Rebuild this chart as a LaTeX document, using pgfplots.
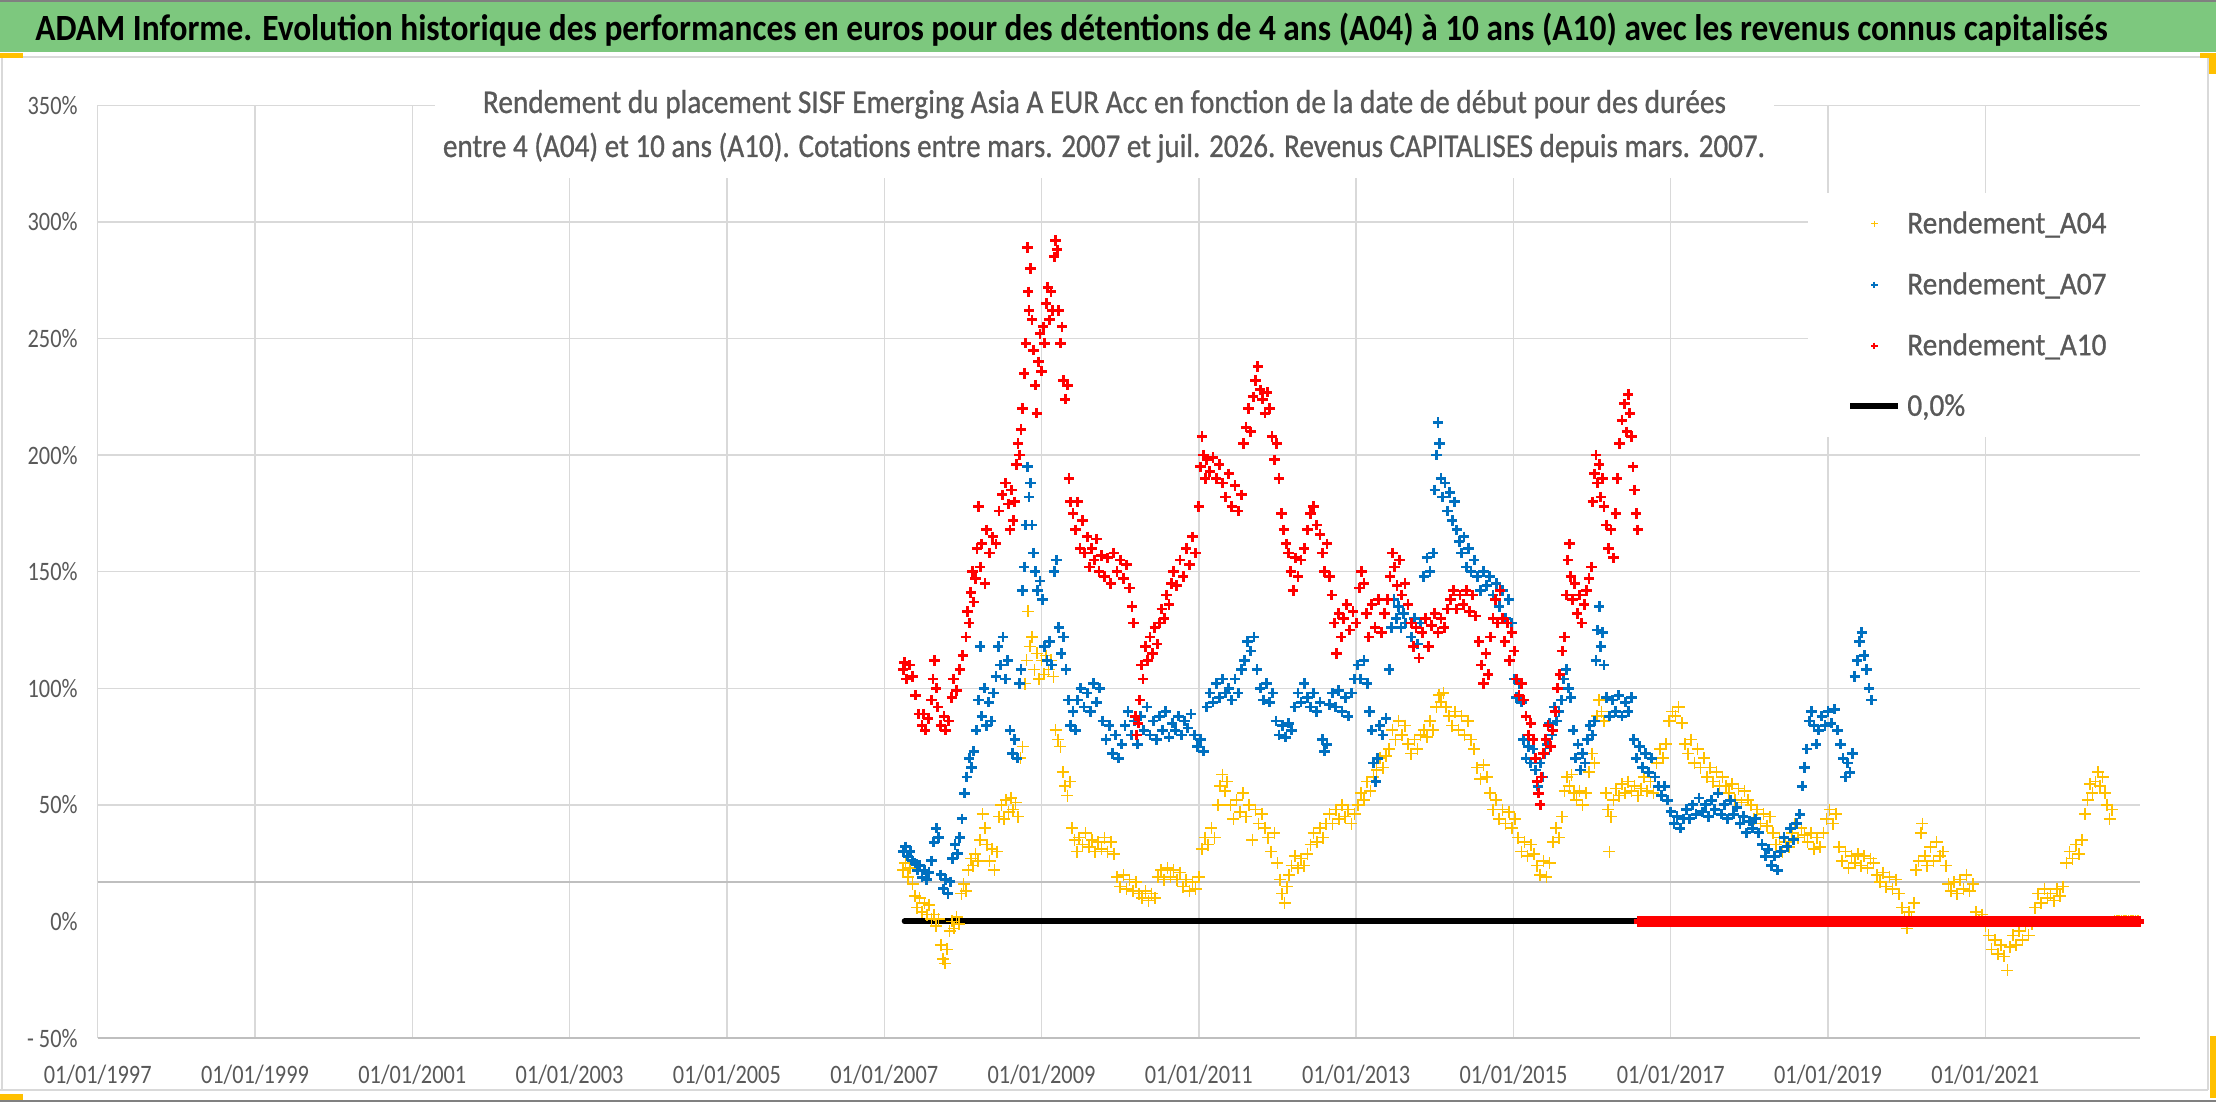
\documentclass[border=0pt]{standalone}
\usepackage{fontspec}
\setmainfont{Carlito}[FakeStretch=0.84]
\newfontfamily\legfont{Carlito}[FakeStretch=0.925,FakeBold=0.8]
\newfontfamily\titfont{Carlito}
\newfontfamily\chtfont{Carlito}[FakeBold=0.8]
\usepackage{graphicx}
\usepackage{pgfplots}
\usepackage{pgfplotstable}
\pgfplotsset{compat=1.18}
\definecolor{tgray}{HTML}{595959}
\definecolor{ggrid}{HTML}{D9D9D9}
\definecolor{axgray}{HTML}{BFBFBF}
\definecolor{barg}{RGB}{125,200,126}
\definecolor{cA04}{HTML}{FFC000}
\definecolor{cA07}{HTML}{0070C0}
\definecolor{cA10}{HTML}{FF0000}

\pgfplotstableread[row sep=\\]{x y\\
2007.24 22\\ 2007.27 25\\ 2007.30 19\\ 2007.33 23\\ 2007.36 16\\ 2007.39 11\\ 2007.42 6\\ 2007.45 10\\ 2007.48 4\\ 2007.51 8\\
2007.54 3\\ 2007.57 7\\ 2007.60 1\\ 2007.63 3\\ 2007.66 -2\\ 2007.69 1\\ 2007.72 -10\\ 2007.75 -16\\ 2007.77 -18\\ 2007.80 -12\\
2007.83 -4\\ 2007.86 0\\ 2007.89 -3\\ 2007.92 2\\ 2007.95 -1\\ 2007.98 12\\ 2008.01 16\\ 2008.04 13\\ 2008.07 22\\ 2008.10 27\\
2008.13 24\\ 2008.16 29\\ 2008.19 26\\ 2008.22 35\\ 2008.25 46\\ 2008.28 40\\ 2008.31 33\\ 2008.34 26\\ 2008.37 31\\ 2008.40 22\\
2008.43 30\\ 2008.46 45\\ 2008.49 50\\ 2008.52 44\\ 2008.55 52\\ 2008.58 47\\ 2008.61 53\\ 2008.64 48\\ 2008.67 51\\ 2008.70 45\\
2008.73 70\\ 2008.76 75\\ 2008.79 102\\ 2008.81 112\\ 2008.83 133\\ 2008.85 118\\ 2008.88 122\\ 2008.91 108\\ 2008.94 115\\ 2008.97 104\\
2009.00 112\\ 2009.03 106\\ 2009.06 114\\ 2009.09 108\\ 2009.12 112\\ 2009.15 105\\ 2009.18 82\\ 2009.21 78\\ 2009.24 75\\ 2009.27 64\\
2009.30 58\\ 2009.33 54\\ 2009.36 60\\ 2009.39 40\\ 2009.42 35\\ 2009.45 30\\ 2009.48 36\\ 2009.52 33\\ 2009.56 38\\ 2009.60 32\\
2009.64 35\\ 2009.68 30\\ 2009.72 34\\ 2009.76 31\\ 2009.80 36\\ 2009.84 30\\ 2009.88 34\\ 2009.92 29\\ 2009.96 19\\ 2010.00 15\\
2010.04 20\\ 2010.08 14\\ 2010.12 18\\ 2010.16 13\\ 2010.20 17\\ 2010.24 12\\ 2010.28 10\\ 2010.32 13\\ 2010.36 9\\ 2010.40 12\\
2010.44 10\\ 2010.48 19\\ 2010.52 22\\ 2010.56 18\\ 2010.60 23\\ 2010.64 19\\ 2010.68 22\\ 2010.72 18\\ 2010.76 21\\ 2010.80 15\\
2010.84 18\\ 2010.88 13\\ 2010.92 17\\ 2010.96 14\\ 2011.00 19\\ 2011.04 31\\ 2011.08 36\\ 2011.12 33\\ 2011.16 40\\ 2011.20 36\\
2011.24 50\\ 2011.27 58\\ 2011.30 63\\ 2011.33 56\\ 2011.36 60\\ 2011.40 50\\ 2011.44 44\\ 2011.48 52\\ 2011.52 47\\ 2011.56 55\\
2011.60 45\\ 2011.64 50\\ 2011.68 35\\ 2011.72 48\\ 2011.76 42\\ 2011.80 46\\ 2011.84 40\\ 2011.88 36\\ 2011.92 30\\ 2011.96 38\\
2012.00 25\\ 2012.03 18\\ 2012.06 12\\ 2012.09 8\\ 2012.12 15\\ 2012.15 20\\ 2012.18 24\\ 2012.22 28\\ 2012.26 23\\ 2012.30 27\\
2012.34 24\\ 2012.38 29\\ 2012.42 33\\ 2012.46 38\\ 2012.50 34\\ 2012.54 40\\ 2012.58 36\\ 2012.62 42\\ 2012.66 46\\ 2012.70 42\\
2012.74 48\\ 2012.78 44\\ 2012.82 50\\ 2012.86 45\\ 2012.90 48\\ 2012.94 42\\ 2012.98 46\\ 2013.02 50\\ 2013.06 55\\ 2013.10 52\\
2013.14 60\\ 2013.18 56\\ 2013.22 62\\ 2013.26 65\\ 2013.30 70\\ 2013.34 66\\ 2013.38 71\\ 2013.42 74\\ 2013.46 82\\ 2013.50 78\\
2013.54 86\\ 2013.58 80\\ 2013.62 84\\ 2013.66 76\\ 2013.70 72\\ 2013.74 78\\ 2013.78 74\\ 2013.82 80\\ 2013.86 82\\ 2013.90 79\\
2013.94 86\\ 2013.98 82\\ 2014.02 92\\ 2014.05 97\\ 2014.08 94\\ 2014.11 98\\ 2014.14 92\\ 2014.18 88\\ 2014.22 84\\ 2014.26 90\\
2014.30 82\\ 2014.34 88\\ 2014.38 80\\ 2014.42 86\\ 2014.46 78\\ 2014.50 74\\ 2014.54 66\\ 2014.58 61\\ 2014.62 67\\ 2014.66 62\\
2014.70 55\\ 2014.74 48\\ 2014.78 52\\ 2014.82 44\\ 2014.86 48\\ 2014.90 42\\ 2014.94 47\\ 2014.98 40\\ 2015.02 44\\ 2015.06 36\\
2015.10 30\\ 2015.14 34\\ 2015.18 28\\ 2015.22 33\\ 2015.26 29\\ 2015.30 24\\ 2015.34 20\\ 2015.38 26\\ 2015.42 19\\ 2015.46 25\\
2015.50 34\\ 2015.54 40\\ 2015.58 36\\ 2015.62 45\\ 2015.65 56\\ 2015.68 62\\ 2015.71 58\\ 2015.74 63\\ 2015.77 55\\ 2015.80 52\\
2015.84 56\\ 2015.88 50\\ 2015.92 55\\ 2015.96 64\\ 2016.00 72\\ 2016.03 68\\ 2016.06 88\\ 2016.09 95\\ 2016.12 90\\ 2016.15 86\\
2016.18 55\\ 2016.20 48\\ 2016.22 30\\ 2016.24 45\\ 2016.27 52\\ 2016.30 57\\ 2016.34 54\\ 2016.38 59\\ 2016.42 55\\ 2016.46 60\\
2016.50 56\\ 2016.54 58\\ 2016.58 54\\ 2016.62 57\\ 2016.66 62\\ 2016.70 56\\ 2016.74 60\\ 2016.78 55\\ 2016.82 68\\ 2016.86 74\\
2016.90 70\\ 2016.94 76\\ 2016.98 86\\ 2017.02 90\\ 2017.06 88\\ 2017.10 92\\ 2017.14 85\\ 2017.18 76\\ 2017.22 72\\ 2017.26 78\\
2017.30 68\\ 2017.34 74\\ 2017.38 66\\ 2017.42 70\\ 2017.46 62\\ 2017.50 66\\ 2017.54 60\\ 2017.58 64\\ 2017.62 58\\ 2017.66 62\\
2017.70 58\\ 2017.74 55\\ 2017.78 59\\ 2017.82 52\\ 2017.86 57\\ 2017.90 51\\ 2017.94 56\\ 2017.98 52\\ 2018.02 50\\ 2018.06 44\\
2018.10 48\\ 2018.14 42\\ 2018.18 46\\ 2018.22 41\\ 2018.26 45\\ 2018.30 38\\ 2018.34 33\\ 2018.38 36\\ 2018.42 30\\ 2018.46 34\\
2018.50 32\\ 2018.54 38\\ 2018.58 42\\ 2018.62 36\\ 2018.66 40\\ 2018.70 37\\ 2018.74 34\\ 2018.78 38\\ 2018.82 31\\ 2018.86 36\\
2018.90 32\\ 2018.94 38\\ 2018.98 44\\ 2019.02 48\\ 2019.06 42\\ 2019.10 46\\ 2019.14 32\\ 2019.18 26\\ 2019.22 30\\ 2019.26 23\\
2019.30 28\\ 2019.34 25\\ 2019.38 29\\ 2019.42 24\\ 2019.46 28\\ 2019.50 23\\ 2019.54 27\\ 2019.58 25\\ 2019.62 20\\ 2019.66 17\\
2019.70 21\\ 2019.74 15\\ 2019.78 19\\ 2019.82 14\\ 2019.86 18\\ 2019.90 12\\ 2019.94 6\\ 2019.97 2\\ 2020.00 -3\\ 2020.03 4\\
2020.06 1\\ 2020.09 8\\ 2020.12 22\\ 2020.15 26\\ 2020.18 38\\ 2020.20 42\\ 2020.23 28\\ 2020.26 24\\ 2020.30 32\\ 2020.34 26\\
2020.38 34\\ 2020.42 28\\ 2020.46 30\\ 2020.50 24\\ 2020.53 16\\ 2020.56 13\\ 2020.60 17\\ 2020.64 12\\ 2020.68 18\\ 2020.72 14\\
2020.76 20\\ 2020.80 13\\ 2020.84 16\\ 2020.88 4\\ 2020.92 0\\ 2020.96 3\\ 2021.00 -2\\ 2021.04 -6\\ 2021.08 -12\\ 2021.12 -8\\
2021.16 -14\\ 2021.20 -10\\ 2021.24 -15\\ 2021.28 -21\\ 2021.31 -11\\ 2021.35 -6\\ 2021.39 -10\\ 2021.43 -4\\ 2021.47 -8\\ 2021.51 -2\\
2021.55 -6\\ 2021.59 -1\\ 2021.63 6\\ 2021.67 12\\ 2021.71 8\\ 2021.75 14\\ 2021.79 10\\ 2021.83 12\\ 2021.87 9\\ 2021.91 14\\
2021.95 11\\ 2021.99 15\\ 2022.03 25\\ 2022.07 30\\ 2022.11 27\\ 2022.15 33\\ 2022.19 29\\ 2022.23 35\\ 2022.27 46\\ 2022.30 52\\
2022.33 59\\ 2022.36 55\\ 2022.40 60\\ 2022.43 64\\ 2022.46 58\\ 2022.49 62\\ 2022.52 55\\ 2022.55 50\\ 2022.58 44\\ 2022.61 48\\
2022.64 0\\ 2022.67 0\\ 2022.70 0\\ 2022.73 0\\ 2022.76 0\\ 2022.79 0\\ 2022.82 0\\ 2022.85 0\\ 2022.88 0\\ 2022.91 0\\ 2022.94 0\\
}\tAfour

\pgfplotstableread[row sep=\\]{x y\\
2007.24 30\\ 2007.27 32\\ 2007.30 28\\ 2007.33 30\\ 2007.36 26\\ 2007.39 25\\ 2007.42 22\\ 2007.45 24\\ 2007.48 19\\ 2007.51 22\\
2007.54 18\\ 2007.57 21\\ 2007.60 26\\ 2007.63 34\\ 2007.66 40\\ 2007.69 36\\ 2007.72 20\\ 2007.75 14\\ 2007.78 18\\ 2007.81 12\\
2007.84 17\\ 2007.87 27\\ 2007.90 33\\ 2007.93 29\\ 2007.96 36\\ 2007.99 44\\ 2008.02 55\\ 2008.05 62\\ 2008.08 70\\ 2008.11 66\\
2008.14 73\\ 2008.17 82\\ 2008.20 95\\ 2008.22 118\\ 2008.24 88\\ 2008.27 100\\ 2008.30 84\\ 2008.33 94\\ 2008.36 86\\ 2008.39 98\\
2008.42 105\\ 2008.45 118\\ 2008.48 110\\ 2008.51 122\\ 2008.54 104\\ 2008.57 112\\ 2008.60 82\\ 2008.63 72\\ 2008.66 78\\ 2008.69 70\\
2008.72 102\\ 2008.74 108\\ 2008.76 142\\ 2008.78 152\\ 2008.80 170\\ 2008.82 195\\ 2008.84 182\\ 2008.86 188\\ 2008.88 170\\ 2008.90 158\\
2008.92 150\\ 2008.95 142\\ 2008.98 146\\ 2009.01 138\\ 2009.04 118\\ 2009.07 112\\ 2009.10 120\\ 2009.13 110\\ 2009.16 150\\ 2009.19 155\\
2009.22 126\\ 2009.25 115\\ 2009.28 122\\ 2009.31 108\\ 2009.34 95\\ 2009.37 84\\ 2009.40 90\\ 2009.43 82\\ 2009.46 95\\ 2009.50 100\\
2009.54 92\\ 2009.58 98\\ 2009.62 90\\ 2009.66 102\\ 2009.70 94\\ 2009.74 100\\ 2009.78 86\\ 2009.82 78\\ 2009.86 84\\ 2009.90 72\\
2009.94 80\\ 2009.98 70\\ 2010.02 76\\ 2010.06 84\\ 2010.10 90\\ 2010.14 80\\ 2010.18 86\\ 2010.22 76\\ 2010.26 88\\ 2010.30 82\\
2010.34 92\\ 2010.38 80\\ 2010.42 86\\ 2010.46 78\\ 2010.50 88\\ 2010.54 82\\ 2010.58 90\\ 2010.62 79\\ 2010.66 85\\ 2010.70 82\\
2010.74 88\\ 2010.78 80\\ 2010.82 86\\ 2010.86 83\\ 2010.90 89\\ 2010.94 80\\ 2010.98 75\\ 2011.02 78\\ 2011.06 73\\ 2011.10 92\\
2011.14 98\\ 2011.18 94\\ 2011.22 102\\ 2011.26 96\\ 2011.30 104\\ 2011.34 98\\ 2011.38 100\\ 2011.42 95\\ 2011.46 104\\ 2011.50 98\\
2011.54 108\\ 2011.58 112\\ 2011.62 120\\ 2011.66 116\\ 2011.70 122\\ 2011.74 108\\ 2011.78 100\\ 2011.82 95\\ 2011.86 102\\ 2011.90 94\\
2011.94 98\\ 2011.98 86\\ 2012.02 80\\ 2012.06 84\\ 2012.10 79\\ 2012.14 85\\ 2012.18 82\\ 2012.22 92\\ 2012.26 98\\ 2012.30 94\\
2012.34 102\\ 2012.38 96\\ 2012.42 92\\ 2012.46 98\\ 2012.50 90\\ 2012.54 94\\ 2012.57 78\\ 2012.60 73\\ 2012.63 76\\ 2012.66 93\\
2012.70 98\\ 2012.74 92\\ 2012.78 99\\ 2012.82 90\\ 2012.86 96\\ 2012.90 88\\ 2012.94 98\\ 2012.98 104\\ 2013.02 110\\ 2013.06 104\\
2013.10 112\\ 2013.14 102\\ 2013.17 90\\ 2013.20 82\\ 2013.22 68\\ 2013.25 60\\ 2013.27 70\\ 2013.30 84\\ 2013.34 80\\ 2013.38 87\\
2013.42 108\\ 2013.45 126\\ 2013.48 138\\ 2013.51 130\\ 2013.54 135\\ 2013.57 126\\ 2013.60 132\\ 2013.63 128\\ 2013.66 136\\ 2013.70 122\\
2013.74 130\\ 2013.78 119\\ 2013.82 128\\ 2013.86 148\\ 2013.90 156\\ 2013.94 150\\ 2013.98 158\\ 2014.00 185\\ 2014.02 200\\ 2014.04 214\\
2014.06 205\\ 2014.08 190\\ 2014.10 182\\ 2014.13 188\\ 2014.16 176\\ 2014.19 184\\ 2014.22 172\\ 2014.25 180\\ 2014.28 168\\ 2014.31 163\\
2014.34 158\\ 2014.37 165\\ 2014.40 152\\ 2014.43 160\\ 2014.46 150\\ 2014.50 155\\ 2014.54 148\\ 2014.58 142\\ 2014.62 150\\ 2014.66 144\\
2014.70 148\\ 2014.74 140\\ 2014.78 145\\ 2014.82 135\\ 2014.86 142\\ 2014.90 130\\ 2014.94 138\\ 2014.98 128\\ 2015.01 104\\ 2015.04 96\\
2015.07 102\\ 2015.10 94\\ 2015.13 78\\ 2015.16 70\\ 2015.19 75\\ 2015.22 68\\ 2015.25 74\\ 2015.28 65\\ 2015.31 58\\ 2015.34 68\\
2015.37 62\\ 2015.40 72\\ 2015.43 76\\ 2015.46 85\\ 2015.49 80\\ 2015.52 92\\ 2015.55 86\\ 2015.58 90\\ 2015.61 95\\ 2015.64 104\\
2015.67 108\\ 2015.70 100\\ 2015.73 96\\ 2015.76 82\\ 2015.79 70\\ 2015.82 76\\ 2015.85 65\\ 2015.88 72\\ 2015.91 68\\ 2015.94 78\\
2015.97 84\\ 2016.00 80\\ 2016.03 86\\ 2016.05 112\\ 2016.07 125\\ 2016.09 135\\ 2016.11 118\\ 2016.13 124\\ 2016.15 110\\ 2016.18 96\\
2016.22 88\\ 2016.26 95\\ 2016.30 90\\ 2016.34 97\\ 2016.38 88\\ 2016.42 94\\ 2016.46 90\\ 2016.50 96\\ 2016.53 78\\ 2016.56 70\\
2016.60 75\\ 2016.64 66\\ 2016.68 72\\ 2016.72 64\\ 2016.76 70\\ 2016.80 62\\ 2016.84 58\\ 2016.88 54\\ 2016.92 58\\ 2016.96 52\\
2017.00 47\\ 2017.04 42\\ 2017.08 45\\ 2017.12 40\\ 2017.16 44\\ 2017.20 48\\ 2017.24 44\\ 2017.28 50\\ 2017.32 46\\ 2017.36 53\\
2017.40 47\\ 2017.44 50\\ 2017.48 45\\ 2017.52 52\\ 2017.56 48\\ 2017.60 55\\ 2017.64 46\\ 2017.68 50\\ 2017.72 44\\ 2017.76 52\\
2017.80 46\\ 2017.84 49\\ 2017.88 42\\ 2017.92 45\\ 2017.96 38\\ 2018.00 43\\ 2018.04 40\\ 2018.08 44\\ 2018.12 38\\ 2018.16 33\\
2018.20 28\\ 2018.24 31\\ 2018.28 24\\ 2018.32 28\\ 2018.36 22\\ 2018.40 30\\ 2018.44 36\\ 2018.48 32\\ 2018.52 40\\ 2018.56 35\\
2018.60 42\\ 2018.64 46\\ 2018.67 58\\ 2018.70 66\\ 2018.73 74\\ 2018.76 86\\ 2018.79 90\\ 2018.82 84\\ 2018.85 76\\ 2018.88 82\\
2018.92 88\\ 2018.96 84\\ 2019.00 90\\ 2019.04 85\\ 2019.08 91\\ 2019.12 82\\ 2019.16 76\\ 2019.19 70\\ 2019.22 62\\ 2019.25 68\\
2019.28 64\\ 2019.31 72\\ 2019.34 105\\ 2019.37 112\\ 2019.40 120\\ 2019.43 124\\ 2019.46 114\\ 2019.49 108\\ 2019.52 100\\ 2019.55 95\\
2019.60 0\\ 2019.70 0\\ 2019.80 0\\ 2019.90 0\\ 2020.00 0\\ 2020.10 0\\ 2020.20 0\\ 2020.30 0\\ 2020.40 0\\ 2020.50 0\\
2020.60 0\\ 2020.70 0\\ 2020.80 0\\ 2020.90 0\\ 2021.00 0\\ 2021.10 0\\ 2021.20 0\\ 2021.30 0\\ 2021.40 0\\ 2021.50 0\\
2021.60 0\\ 2021.70 0\\ 2021.80 0\\ 2021.90 0\\ 2022.00 0\\ 2022.10 0\\ 2022.20 0\\ 2022.30 0\\ 2022.40 0\\ 2022.50 0\\
2022.60 0\\ 2022.70 0\\ 2022.80 0\\ 2022.90 0\\
}\tAseven

\pgfplotstableread[row sep=\\]{x y\\
2007.24 108\\ 2007.26 111\\ 2007.28 104\\ 2007.32 110\\ 2007.36 105\\ 2007.40 97\\ 2007.44 89\\ 2007.48 84\\ 2007.50 89\\ 2007.52 82\\
2007.56 87\\ 2007.60 95\\ 2007.62 104\\ 2007.64 112\\ 2007.66 100\\ 2007.68 92\\ 2007.72 84\\ 2007.76 88\\ 2007.78 82\\ 2007.82 86\\
2007.86 96\\ 2007.88 104\\ 2007.92 99\\ 2007.96 108\\ 2008.00 114\\ 2008.04 122\\ 2008.06 133\\ 2008.08 128\\ 2008.10 141\\ 2008.12 150\\
2008.14 137\\ 2008.16 147\\ 2008.18 160\\ 2008.20 178\\ 2008.22 152\\ 2008.24 162\\ 2008.28 145\\ 2008.30 168\\ 2008.34 158\\ 2008.38 165\\
2008.42 162\\ 2008.46 176\\ 2008.50 183\\ 2008.54 188\\ 2008.58 179\\ 2008.60 168\\ 2008.62 185\\ 2008.64 172\\ 2008.66 180\\ 2008.68 196\\
2008.70 205\\ 2008.72 200\\ 2008.74 211\\ 2008.76 220\\ 2008.78 235\\ 2008.80 248\\ 2008.82 289\\ 2008.83 270\\ 2008.84 262\\ 2008.86 280\\
2008.88 258\\ 2008.90 245\\ 2008.92 230\\ 2008.94 218\\ 2008.96 240\\ 2008.98 252\\ 2009.00 236\\ 2009.02 255\\ 2009.04 248\\ 2009.06 265\\
2009.08 272\\ 2009.10 258\\ 2009.12 270\\ 2009.14 262\\ 2009.16 285\\ 2009.18 292\\ 2009.20 288\\ 2009.22 262\\ 2009.24 248\\ 2009.26 255\\
2009.28 232\\ 2009.30 224\\ 2009.33 230\\ 2009.35 190\\ 2009.37 180\\ 2009.40 175\\ 2009.43 168\\ 2009.46 180\\ 2009.49 160\\ 2009.52 172\\
2009.55 158\\ 2009.58 165\\ 2009.61 152\\ 2009.64 160\\ 2009.67 155\\ 2009.70 164\\ 2009.73 150\\ 2009.76 157\\ 2009.80 148\\ 2009.84 156\\
2009.88 145\\ 2009.92 158\\ 2009.96 150\\ 2010.00 155\\ 2010.04 147\\ 2010.08 153\\ 2010.12 143\\ 2010.15 135\\ 2010.17 128\\ 2010.19 88\\
2010.21 80\\ 2010.23 85\\ 2010.25 95\\ 2010.27 110\\ 2010.29 104\\ 2010.32 118\\ 2010.35 112\\ 2010.38 122\\ 2010.41 115\\ 2010.44 126\\
2010.47 119\\ 2010.50 128\\ 2010.53 134\\ 2010.56 130\\ 2010.59 140\\ 2010.62 136\\ 2010.65 145\\ 2010.68 150\\ 2010.72 144\\ 2010.76 155\\
2010.80 148\\ 2010.84 160\\ 2010.88 153\\ 2010.92 165\\ 2010.96 158\\ 2011.00 178\\ 2011.02 195\\ 2011.04 208\\ 2011.06 200\\ 2011.08 190\\
2011.10 198\\ 2011.14 193\\ 2011.18 199\\ 2011.22 190\\ 2011.26 196\\ 2011.30 188\\ 2011.34 182\\ 2011.38 192\\ 2011.42 178\\ 2011.46 187\\
2011.50 176\\ 2011.54 183\\ 2011.57 205\\ 2011.60 212\\ 2011.63 220\\ 2011.66 210\\ 2011.69 225\\ 2011.72 232\\ 2011.75 238\\ 2011.78 228\\
2011.81 224\\ 2011.84 218\\ 2011.87 227\\ 2011.90 220\\ 2011.93 208\\ 2011.96 198\\ 2011.99 205\\ 2012.02 190\\ 2012.05 175\\ 2012.08 168\\
2012.11 162\\ 2012.14 158\\ 2012.17 150\\ 2012.20 142\\ 2012.23 156\\ 2012.26 148\\ 2012.30 155\\ 2012.34 160\\ 2012.38 168\\ 2012.42 175\\
2012.46 178\\ 2012.50 170\\ 2012.54 166\\ 2012.57 158\\ 2012.60 150\\ 2012.63 162\\ 2012.66 148\\ 2012.69 140\\ 2012.72 128\\ 2012.75 115\\
2012.78 132\\ 2012.81 122\\ 2012.84 130\\ 2012.88 136\\ 2012.92 125\\ 2012.96 133\\ 2013.00 128\\ 2013.04 143\\ 2013.07 150\\ 2013.10 145\\
2013.13 132\\ 2013.16 122\\ 2013.20 136\\ 2013.24 126\\ 2013.28 138\\ 2013.32 124\\ 2013.36 132\\ 2013.40 138\\ 2013.43 148\\ 2013.46 158\\
2013.49 152\\ 2013.52 144\\ 2013.55 155\\ 2013.58 140\\ 2013.62 145\\ 2013.66 136\\ 2013.70 128\\ 2013.73 118\\ 2013.76 126\\ 2013.80 113\\
2013.84 124\\ 2013.88 130\\ 2013.92 118\\ 2013.96 127\\ 2014.00 132\\ 2014.04 124\\ 2014.08 130\\ 2014.12 126\\ 2014.16 134\\ 2014.20 138\\
2014.24 142\\ 2014.28 134\\ 2014.32 140\\ 2014.36 136\\ 2014.40 142\\ 2014.44 133\\ 2014.48 140\\ 2014.52 131\\ 2014.56 120\\ 2014.59 110\\
2014.62 102\\ 2014.65 115\\ 2014.68 106\\ 2014.71 122\\ 2014.74 130\\ 2014.77 138\\ 2014.80 128\\ 2014.83 142\\ 2014.86 130\\ 2014.89 120\\
2014.92 128\\ 2014.95 112\\ 2014.98 124\\ 2015.01 116\\ 2015.04 104\\ 2015.07 97\\ 2015.10 102\\ 2015.13 95\\ 2015.16 88\\ 2015.19 80\\
2015.22 85\\ 2015.25 78\\ 2015.28 70\\ 2015.30 60\\ 2015.32 55\\ 2015.34 50\\ 2015.36 62\\ 2015.38 72\\ 2015.41 78\\ 2015.44 84\\
2015.47 75\\ 2015.50 82\\ 2015.53 90\\ 2015.56 100\\ 2015.59 106\\ 2015.62 116\\ 2015.65 122\\ 2015.67 140\\ 2015.69 155\\ 2015.71 162\\
2015.73 148\\ 2015.75 138\\ 2015.78 145\\ 2015.81 132\\ 2015.84 140\\ 2015.87 128\\ 2015.90 136\\ 2015.93 142\\ 2015.96 147\\ 2015.99 152\\
2016.01 180\\ 2016.03 192\\ 2016.05 200\\ 2016.07 188\\ 2016.09 196\\ 2016.11 182\\ 2016.13 190\\ 2016.15 178\\ 2016.18 170\\ 2016.21 160\\
2016.24 168\\ 2016.27 156\\ 2016.30 175\\ 2016.32 190\\ 2016.35 205\\ 2016.38 215\\ 2016.41 222\\ 2016.44 210\\ 2016.46 226\\ 2016.48 218\\
2016.50 208\\ 2016.52 195\\ 2016.54 185\\ 2016.56 175\\ 2016.58 168\\
}\tAten

\pgfplotstableread[row sep=\\]{x y\\
2016.60 0\\ 2016.65 0\\ 2016.70 0\\ 2016.75 0\\ 2016.80 0\\ 2016.85 0\\ 2016.90 0\\ 2016.95 0\\ 2017.00 0\\ 2017.05 0\\
2017.10 0\\ 2017.15 0\\ 2017.20 0\\ 2017.25 0\\ 2017.30 0\\ 2017.35 0\\ 2017.40 0\\ 2017.45 0\\ 2017.50 0\\ 2017.55 0\\
2017.60 0\\ 2017.65 0\\ 2017.70 0\\ 2017.75 0\\ 2017.80 0\\ 2017.85 0\\ 2017.90 0\\ 2017.95 0\\ 2018.00 0\\ 2018.05 0\\
2018.10 0\\ 2018.15 0\\ 2018.20 0\\ 2018.25 0\\ 2018.30 0\\ 2018.35 0\\ 2018.40 0\\ 2018.45 0\\ 2018.50 0\\ 2018.55 0\\
2018.60 0\\ 2018.65 0\\ 2018.70 0\\ 2018.75 0\\ 2018.80 0\\ 2018.85 0\\ 2018.90 0\\ 2018.95 0\\ 2019.00 0\\ 2019.05 0\\
2019.10 0\\ 2019.15 0\\ 2019.20 0\\ 2019.25 0\\ 2019.30 0\\ 2019.35 0\\ 2019.40 0\\ 2019.45 0\\ 2019.50 0\\ 2019.55 0\\
2019.60 0\\ 2019.65 0\\ 2019.70 0\\ 2019.75 0\\ 2019.80 0\\ 2019.85 0\\ 2019.90 0\\ 2019.95 0\\ 2020.00 0\\ 2020.05 0\\
2020.10 0\\ 2020.15 0\\ 2020.20 0\\ 2020.25 0\\ 2020.30 0\\ 2020.35 0\\ 2020.40 0\\ 2020.45 0\\ 2020.50 0\\ 2020.55 0\\
2020.60 0\\ 2020.65 0\\ 2020.70 0\\ 2020.75 0\\ 2020.80 0\\ 2020.85 0\\ 2020.90 0\\ 2020.95 0\\ 2021.00 0\\ 2021.05 0\\
2021.10 0\\ 2021.15 0\\ 2021.20 0\\ 2021.25 0\\ 2021.30 0\\ 2021.35 0\\ 2021.40 0\\ 2021.45 0\\ 2021.50 0\\ 2021.55 0\\
2021.60 0\\ 2021.65 0\\ 2021.70 0\\ 2021.75 0\\ 2021.80 0\\ 2021.85 0\\ 2021.90 0\\ 2021.95 0\\ 2022.00 0\\ 2022.05 0\\
2022.10 0\\ 2022.15 0\\ 2022.20 0\\ 2022.25 0\\ 2022.30 0\\ 2022.35 0\\ 2022.40 0\\ 2022.45 0\\ 2022.50 0\\ 2022.55 0\\
2022.60 0\\ 2022.65 0\\ 2022.70 0\\ 2022.75 0\\ 2022.80 0\\ 2022.85 0\\ 2022.90 0\\ 2022.95 0\\
}\tAtenzero

\begin{document}
\begin{tikzpicture}[x=1pt,y=1pt]
\useasboundingbox (0,0) rectangle (1108,551);
\fill[white] (0,0) rectangle (1108,551);
% title bar
\fill[barg] (0,525) rectangle (1108,550.5);
\draw[line width=1.2pt, color=gray] (0,550.4) -- (1108,550.4);
\draw[line width=1pt, color=ggrid] (0,522.6) -- (1104,522.6);
\draw[line width=0.8pt, color=ggrid] (1,6) -- (1,522);
\draw[line width=0.8pt, color=ggrid] (1104,6) -- (1104,522);
\draw[line width=0.8pt, color=ggrid] (0,6) -- (1104,6);
\draw[line width=1pt, color=gray] (0,0.5) -- (1108,0.5);
\fill[cA04] (0,522) rectangle (11.5,524.6);
\fill[cA04] (1100,522) rectangle (1108,524.6);
\fill[cA04] (1104.5,514) rectangle (1108,524.6);
\fill[cA04] (1105,2) rectangle (1108,33);
\fill[cA04] (0,1) rectangle (11.5,4);

\begin{axis}[
  at={(48.85pt,31.95pt)}, anchor=south west,
  scale only axis, width=1021.3pt, height=466.4pt,
  xmin=1997, xmax=2022.97, ymin=-50, ymax=350,
  axis line style={draw=none},
  major tick length=0pt,
  xtick={1997,1999,2001,2003,2005,2007,2009,2011,2013,2015,2017,2019,2021},
  xticklabels={01/01/1997,01/01/1999,01/01/2001,01/01/2003,01/01/2005,01/01/2007,01/01/2009,01/01/2011,01/01/2013,01/01/2015,01/01/2017,01/01/2019,01/01/2021},
  ytick={-50,17,50,100,150,200,250,300,350},
  yticklabels={- 50\%,,50\%,100\%,150\%,200\%,250\%,300\%,350\%},
  extra y ticks={0}, extra y tick labels={0\%}, extra y tick style={grid=none},
  xmajorgrids, ymajorgrids,
  grid style={color=ggrid, line width=0.7pt},
  tick label style={font=\fontsize{13.3}{13.3}\selectfont, text=tgray},
  yticklabel style={anchor=east, inner sep=0pt, xshift=-9.85pt},
  xticklabel style={anchor=north, inner sep=0pt, yshift=-13.5pt},
  legend style={at={(rel axis cs:0.8373,0.906)}, anchor=north west, draw=none, fill=white,
    inner xsep=19.5pt, inner ysep=9pt, row sep=18pt, column sep=3pt,
    font=\legfont\fontsize{15.8}{15.8}\selectfont, text=tgray, nodes={inner sep=0pt}},
  legend cell align=left,
  legend image code/.code={\draw[mark repeat=2,mark phase=2,#1] plot coordinates {(0pt,0pt) (12pt,0pt) (24pt,0pt)};},
]
\draw[axgray, line width=1pt] (axis cs:1997,17) -- (axis cs:2022.97,17);
\draw[axgray, line width=1pt] (axis cs:1997,-50) -- (axis cs:2022.97,-50);
\addplot[black, line width=3pt, line cap=round, forget plot] coordinates {(2007.26,0) (2022.95,0)};
\addplot[only marks, mark=+, color=cA04, mark size=3pt, mark options={line width=0.8pt},
  legend image post style={mark size=1.6pt, mark options={line width=0.6pt}}] table {\tAfour};
\addlegendentry{Rendement\_A04}
\addplot[only marks, mark=+, color=cA07, mark size=2.6pt, mark options={line width=1.4pt},
  legend image post style={mark size=1.6pt, mark options={line width=0.9pt}}] table {\tAseven};
\addlegendentry{Rendement\_A07}
\addplot[only marks, mark=+, color=cA10, mark size=2.6pt, mark options={line width=1.4pt},
  legend image post style={mark size=1.6pt, mark options={line width=0.9pt}}] table {\tAten};
\addlegendentry{Rendement\_A10}
\addplot[only marks, mark=+, color=cA10, mark size=2.7pt, mark options={line width=2.2pt}, forget plot] table {\tAtenzero};
\addlegendimage{black, line width=3pt, no markers}
\addlegendentry{0,0\%}
\end{axis}

\fill[white] (217.5,462) rectangle (887,513.5);
\node[anchor=base, inner sep=0pt, text=tgray, font=\chtfont\fontsize{16.6}{16.6}\selectfont] at (552.25,494.5)
  {\resizebox{621.5pt}{\height}{Rendement du placement SISF Emerging Asia A EUR Acc en fonction de la date de début pour des durées}};
\node[anchor=base, inner sep=0pt, text=tgray, font=\chtfont\fontsize{16.6}{16.6}\selectfont] at (552,472.5)
  {\resizebox{661pt}{\height}{entre 4 (A04) et 10 ans (A10). Cotations entre mars. 2007 et juil. 2026. Revenus CAPITALISES depuis mars. 2007.}};
\node[anchor=base west, inner sep=0pt, text=black, font=\titfont\bfseries\fontsize{18.5}{18.5}\selectfont] at (17.5,530.7)
  {\resizebox{1036pt}{\height}{ADAM Informe. Evolution historique des performances en euros pour des détentions de 4 ans (A04) à 10 ans (A10) avec les revenus connus capitalisés}};
\end{tikzpicture}
\end{document}
